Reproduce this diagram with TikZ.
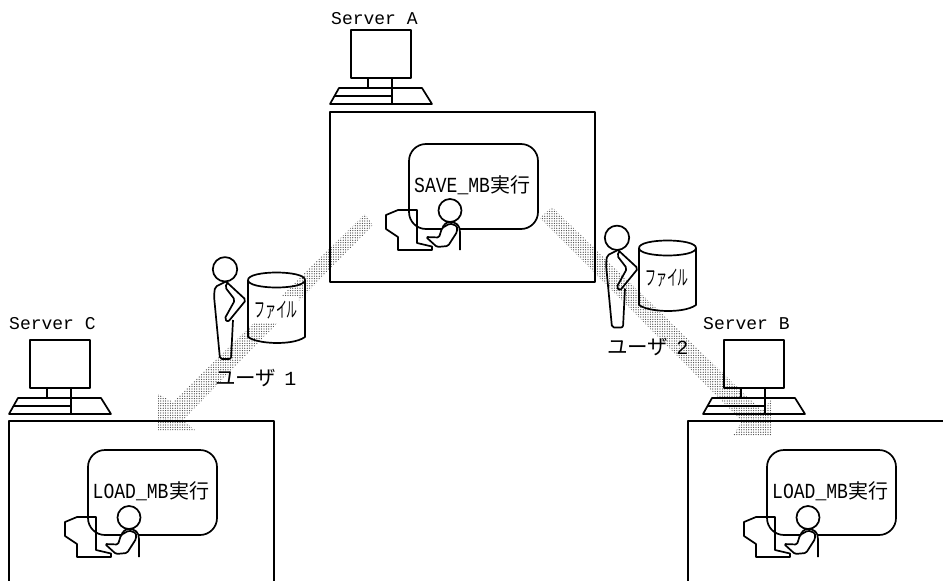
\documentclass[tikz,border=0pt]{standalone}
\usepackage{fontspec}
\usepackage{graphicx}
\usetikzlibrary{patterns.meta}
\setmainfont{Liberation Mono}
\newfontfamily\cjkf{Noto Sans CJK JP}
\newfontfamily\monof{Liberation Mono}
\newcommand{\mb}[2]{\scalebox{0.84}[1]{\fontsize{21.5}{21.5}\selectfont\monof #1}\hspace{0.5pt}{\fontsize{20}{20}\selectfont\cjkf #2}}
\tikzset{
  ln/.style={draw=black,line width=1.7pt,line join=round},
  band/.style={pattern={Dots[distance=2.4pt,radius=0.62pt]},pattern color=black!75},
  lab/.style={inner sep=0pt,anchor=base west,font=\fontsize{18}{18}\selectfont\monof},
  filelab/.style={inner sep=0pt,fill=white,minimum width=44pt,minimum height=26pt},
  pics/serverpic/.style={code={
    \draw[ln] (351,30) rectangle (411,78);
    \draw[ln] (368,78) -- (368,88);
    \draw[ln] (392,78) -- (392,104);
    \draw[ln] (339,88) -- (422,88) -- (432,104) -- (330,104) -- cycle;
    \draw[ln] (335,96) -- (392,96);
  }},
  pics/runbox/.style={code={
    \draw[ln,rounded corners=17pt] (409,144) rectangle (538,229);
  }},
  pics/operatorpic/.style={code={
    \draw[ln] (386,215) -- (398,210) -- (417,210) -- (417,243) -- (432,246.5) -- (432,250) -- (398,250) -- (398,237) -- (386,229) -- cycle;
    \draw[ln] (450,210.5) circle (11.5);
    \draw[ln,fill=white] (442,230) .. controls (443,224) and (447,222) .. (450,222) .. controls (456,222) and (460,225) .. (460,232) -- (460,250);
    \draw[ln,fill=white,rounded corners=1.5pt] (426,237) -- (439,237.5) -- (442,228) -- (450,223.5) -- (457,226) -- (457,232) -- (448,246) -- (437,247) -- cycle;
  }},
  pics/standpic/.style={code={
    \draw[ln] (225,269.3) circle (12.2);
    \draw[ln,rounded corners=2pt] (226,281.5) -- (246,300) -- (228,322) -- (224.5,319) -- (235,300) -- (225,287) -- (228,282);
    \draw[ln,rounded corners=2pt] (226,281.5) -- (215,287) -- (214,296) -- (220,359) -- (231,359) -- (233,320);
  }},
  pics/drumpic/.style={code={
    \draw[ln] (248,280) .. controls (248,270) and (305,270) .. (305,280) .. controls (305,290) and (248,290) .. (248,280);
    \draw[ln] (248,280) -- (248,337) .. controls (255,342) and (270,343) .. (277,343) .. controls (285,343) and (298,342) .. (305,337) -- (305,280);
  }}
}
\begin{document}
\begin{tikzpicture}[x=1pt,y=-1pt]
\useasboundingbox (0,0) rectangle (943,581);
% transfer bands
\path[band] (365,214) -- (173,402) -- (158,394) -- (158,430) -- (195,430) -- (183,420) -- (373,225) -- cycle;
\path[band] (552,207) -- (762,411) -- (771,400) -- (771,436) -- (733,436) -- (742,421) -- (540,218) -- cycle;
% frames
\draw[ln] (330,112) rectangle (595,282);
\draw[ln] (9,581) -- (9,421) -- (274,421) -- (274,581);
\draw[ln] (688,581) -- (688,421) -- (943,421);
% servers
\pic at (0,0) {serverpic};
\pic at (-321,310) {serverpic};
\pic at (373,310) {serverpic};
\node[lab] (la) at (331,24) {Server A};
\node[lab] (lc) at (9,329) {Server C};
\node[lab] (lb) at (703,329) {Server B};
% run boxes
\pic at (0,0) {runbox};
\pic at (-321,306) {runbox};
\pic at (358,306) {runbox};
\node[inner sep=0pt,anchor=base west] (ta) at (414,192.7) {\mb{SAVE\_MB}{実行}};
\node[inner sep=0pt,anchor=base west] (tc) at (92.5,498.5) {\mb{LOAD\_MB}{実行}};
\node[inner sep=0pt,anchor=base west] (tb) at (772,498.5) {\mb{LOAD\_MB}{実行}};
% operators
\pic at (0,0) {operatorpic};
\pic at (-321,307) {operatorpic};
\pic at (358,307) {operatorpic};
% users and files
\pic at (0,0) {standpic};
\pic at (392,-31.5) {standpic};
\pic at (0,0) {drumpic};
\pic at (391,-32) {drumpic};
\node[filelab] (f1) at (276,310) {\scalebox{0.52}[1]{\fontsize{21}{21}\selectfont\cjkf ファイル}};
\node[filelab] (f2) at (667,278) {\scalebox{0.52}[1]{\fontsize{21}{21}\selectfont\cjkf ファイル}};
\node[inner sep=0pt,anchor=base west] (u1) at (215,385) {{\fontsize{20.5}{20.5}\selectfont\cjkf ユーザ}\hspace{8pt}{\fontsize{20}{20}\selectfont\monof 1}};
\node[inner sep=0pt,anchor=base west] (u2) at (607,354) {{\fontsize{20.5}{20.5}\selectfont\cjkf ユーザ}\hspace{8pt}{\fontsize{20}{20}\selectfont\monof 2}};
\end{tikzpicture}
\end{document}
